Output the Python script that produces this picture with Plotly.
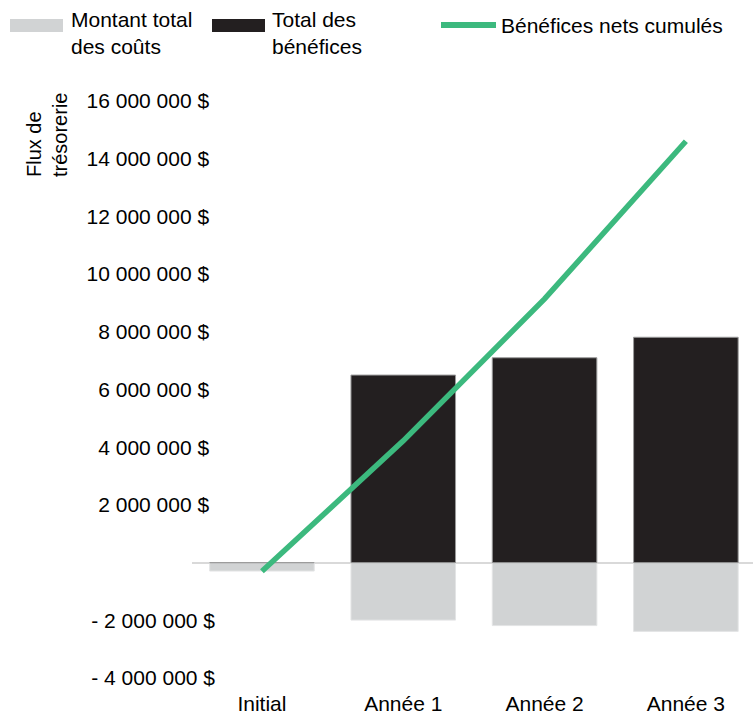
import plotly.graph_objects as go

# ---- data ----
categories = ["Initial", "Année 1", "Année 2", "Année 3"]
total_costs = [-0.29e6, -1.99e6, -2.18e6, -2.38e6]
total_benefits = [0, 6.50e6, 7.10e6, 7.81e6]
cumulative_net = [-0.30e6, 4.22e6, 9.14e6, 14.60e6]

tick_values = [-4e6, -2e6, 2e6, 4e6, 6e6, 8e6, 10e6, 12e6, 14e6, 16e6]
tick_labels = ["- 4 000 000 $", "- 2 000 000 $",
               "2 000 000 $\u00a0", "4 000 000 $\u00a0", "6 000 000 $\u00a0",
               "8 000 000 $\u00a0", "10 000 000 $\u00a0", "12 000 000 $\u00a0",
               "14 000 000 $\u00a0", "16 000 000 $\u00a0"]

legend_labels = ["Montant total<br>des coûts", "Total des<br>bénéfices", "Bénéfices nets cumulés"]
y_title = "Flux de<br>trésorerie"

# ---- style ----
W, H = 753, 717
ML, MR, MT, MB = 192, 0, 85, 24
FONT = "Liberation Sans, Arial, sans-serif"
GRAY = "#d1d3d4"
BLACK = "#231f20"
GREEN = "#3cb97e"

pw = W - ML - MR
ph = H - MT - MB


def px_x(x):
    return (x - ML) / pw


def px_y(y):
    return (H - MB - y) / ph


fig = go.Figure()
fig.add_trace(go.Bar(x=categories, y=total_costs, name=legend_labels[0],
                     marker=dict(color=GRAY, line=dict(color="#e3e4e5", width=1)),
                     width=0.74))
fig.add_trace(go.Bar(x=categories, y=total_benefits, name=legend_labels[1],
                     marker=dict(color=BLACK, line=dict(color="#9a9a9a", width=1)),
                     width=0.74))
fig.add_trace(go.Scatter(x=categories, y=cumulative_net, name=legend_labels[2],
                         mode="lines", line=dict(color=GREEN, width=5.5)))

shapes = []
annotations = []
# manual legend
shapes.append(dict(type="rect", xref="paper", yref="paper",
                   x0=px_x(10), x1=px_x(63), y0=px_y(32), y1=px_y(19),
                   fillcolor=GRAY, line=dict(width=0)))
shapes.append(dict(type="rect", xref="paper", yref="paper",
                   x0=px_x(212), x1=px_x(265), y0=px_y(32), y1=px_y(19),
                   fillcolor=BLACK, line=dict(width=0)))
shapes.append(dict(type="line", xref="paper", yref="paper",
                   x0=px_x(441), x1=px_x(496), y0=px_y(25), y1=px_y(25),
                   line=dict(color=GREEN, width=6)))
for lx, ly, txt in [(69, 33, legend_labels[0]), (270, 33, legend_labels[1]),
                    (499, 26, legend_labels[2])]:
    annotations.append(dict(xref="paper", yref="paper", x=px_x(lx), y=px_y(ly),
                            text=txt, showarrow=False, xanchor="left",
                            yanchor="middle", align="left",
                            font=dict(family=FONT, size=21, color="#000")))

annotations.append(dict(xref="paper", yref="paper", x=px_x(47), y=px_y(135),
                        text=y_title, showarrow=False, textangle=-90,
                        xanchor="center", yanchor="middle", align="left",
                        font=dict(family=FONT, size=20, color="#000")))

fig.update_layout(
    width=W, height=H,
    margin=dict(l=ML, r=MR, t=MT, b=MB, pad=0),
    paper_bgcolor="white", plot_bgcolor="white",
    barmode="relative", bargap=0.26,
    showlegend=False,
    font=dict(family=FONT, color="#000"),
    shapes=shapes, annotations=annotations,
    xaxis=dict(type="category", range=[-0.495, 3.475], showgrid=False,
               showline=False, ticks="", zeroline=False, automargin=False,
               ticklabelstandoff=-4,
               tickfont=dict(family=FONT, size=21, color="#000")),
    yaxis=dict(range=[-4.515e6, 16.55e6], tickvals=tick_values, ticktext=tick_labels,
               showgrid=False, showline=False, ticks="", automargin=False,
               zeroline=True, zerolinecolor="#d9d9d9", zerolinewidth=2,
               ticklabelstandoff=-24,
               tickfont=dict(family=FONT, size=21, color="#000")),
)

fig.write_html("out.html")
